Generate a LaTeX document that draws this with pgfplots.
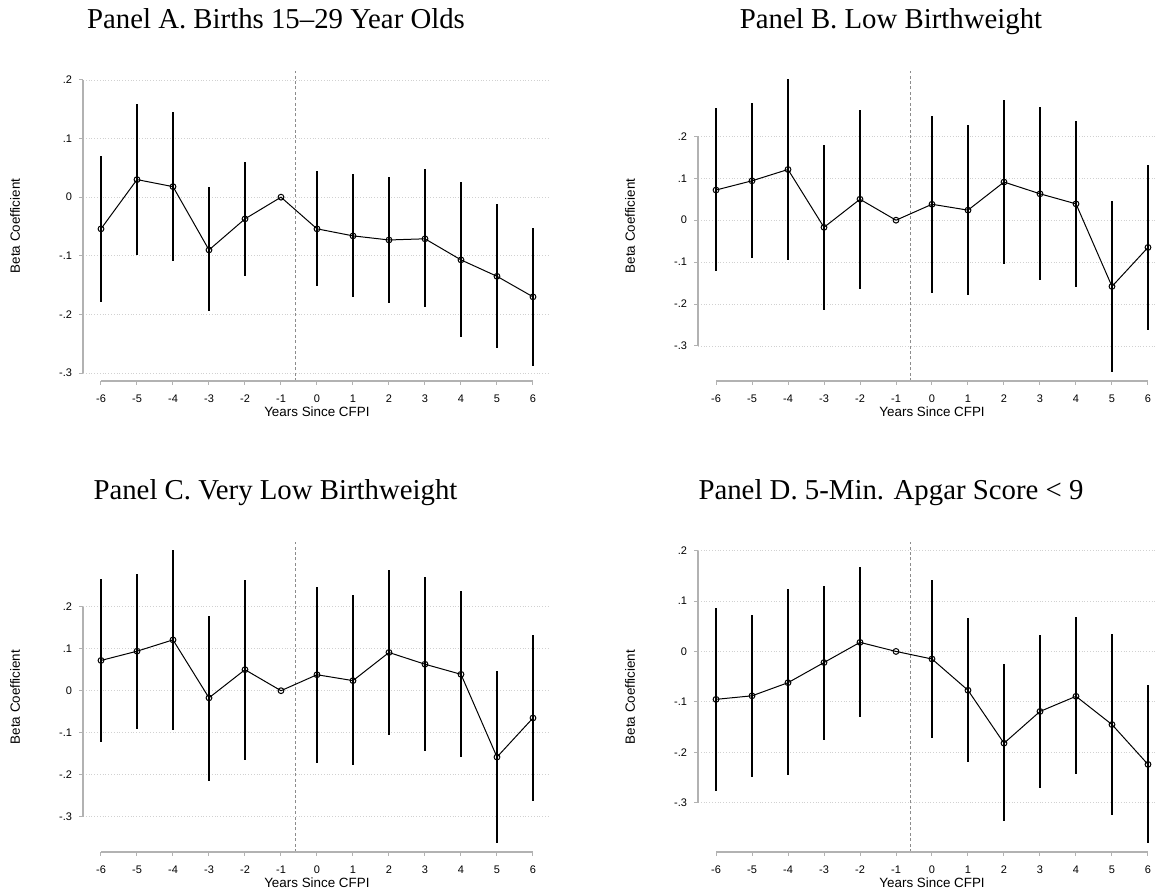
\documentclass[border=0pt]{standalone}
\usepackage{fontspec}
\setmainfont{Liberation Serif}
\setsansfont{Liberation Sans}
\usepackage{pgfplots}
\usepackage{pgfplotstable}
\pgfplotsset{compat=1.18}

\pgfplotstableread{
x y hi lo
-6 -0.054 0.071 -0.178
-5 0.030 0.159 -0.098
-4 0.018 0.146 -0.109
-3 -0.090 0.017 -0.195
-2 -0.037 0.060 -0.134
-1 0 0 0
0 -0.054 0.045 -0.151
1 -0.066 0.039 -0.170
2 -0.073 0.034 -0.180
3 -0.071 0.048 -0.188
4 -0.107 0.026 -0.239
5 -0.135 -0.012 -0.257
6 -0.170 -0.052 -0.288
}\tabA

\pgfplotstableread{
x y hi lo
-6 0.072 0.267 -0.122
-5 0.094 0.279 -0.091
-4 0.121 0.336 -0.094
-3 -0.017 0.179 -0.214
-2 0.050 0.264 -0.165
-1 0 0 0
0 0.038 0.248 -0.173
1 0.024 0.227 -0.178
2 0.091 0.287 -0.105
3 0.063 0.270 -0.143
4 0.039 0.237 -0.159
5 -0.158 0.047 -0.363
6 -0.065 0.132 -0.262
}\tabB

\pgfplotstableread{
x y hi lo
-6 0.072 0.267 -0.122
-5 0.094 0.279 -0.091
-4 0.121 0.336 -0.094
-3 -0.017 0.179 -0.214
-2 0.050 0.264 -0.165
-1 0 0 0
0 0.038 0.248 -0.173
1 0.024 0.227 -0.178
2 0.091 0.287 -0.105
3 0.063 0.270 -0.143
4 0.039 0.237 -0.159
5 -0.158 0.047 -0.363
6 -0.065 0.132 -0.262
}\tabC

\pgfplotstableread{
x y hi lo
-6 -0.095 0.087 -0.277
-5 -0.088 0.072 -0.249
-4 -0.062 0.123 -0.246
-3 -0.022 0.130 -0.176
-2 0.018 0.168 -0.131
-1 0 0 0
0 -0.015 0.142 -0.171
1 -0.077 0.066 -0.220
2 -0.182 -0.025 -0.337
3 -0.119 0.032 -0.270
4 -0.089 0.068 -0.244
5 -0.145 0.035 -0.324
6 -0.224 -0.067 -0.380
}\tabD

\tikzset{axl/.style={black!30, line width=0.6pt}}

\pgfplotsset{
  panel/.style={
    height=155pt, scale only axis,
    xmin=-6.5,
    xtick={-6,-5,-4,-3,-2,-1,0,1,2,3,4,5,6},
    xticklabels={-6,-5,-4,-3,-2,-1,0,1,2,3,4,5,6},
    ytick={-0.3,-0.2,-0.1,0,0.1,0.2},
    yticklabels={-.3,-.2,-.1,0,.1,.2},
    axis x line*=bottom, axis y line*=left,
    axis line style={draw=none},
    tick align=outside, major tick length=2pt,
    tick style={black!30, line width=0.5pt},
    ymajorgrids,
    grid style={black!18, line width=0.4pt, dash pattern=on 0.4pt off 1pt},
    clip=false,
    ticklabel style={font=\sffamily\fontsize{5.5}{6}\selectfont},
    xticklabel style={yshift=-1.5pt},
    label style={font=\sffamily\fontsize{6.7}{8}\selectfont},
    xlabel={Years Since CFPI}, ylabel={Beta Coefficient},
  },
  ci/.style={black, line width=0.5pt, mark=o, mark size=1.45pt,
    mark options={solid, line width=0.5pt},
    error bars/.cd, y dir=both, y explicit,
    error mark=none, error bar style={black, line width=0.6pt}},
  vline/.style={black!45, line width=0.45pt, dash pattern=on 1.5pt off 1.2pt},
}

\begin{document}
\begin{tikzpicture}
\path[use as bounding box] (0,0) rectangle (578.5pt,447pt);

% Titles
\node[anchor=base, font=\fontsize{14.4}{16}\selectfont] at (138pt,432.5pt) {Panel A. Births 15–29 Year Olds};
\node[anchor=base, font=\fontsize{14.4}{16}\selectfont] at (445.5pt,432.5pt) {Panel B. Low Birthweight};
\node[anchor=base, font=\fontsize{14.4}{16}\selectfont] at (137.75pt,197pt) {Panel C. Very Low Birthweight};
\node[anchor=base, font=\fontsize{14.4}{16}\selectfont] at (445.5pt,197pt) {Panel D. 5-Min. Apgar Score < 9};

% Panel A
\begin{axis}[panel, at={(41.5pt,256.5pt)}, anchor=south west,
  width=232.5pt, xmax=6.417, ymin=-0.3136, ymax=0.2153,
  ylabel style={at={(axis description cs:-0.146,0.5)}, anchor=center},
  xlabel style={at={(axis description cs:0.503,-0.116)}, anchor=base}]
\addplot[vline] coordinates {(-0.6,-0.3136) (-0.6,0.2153)};
\addplot[ci] table[x=x, y=y, y error plus expr=\thisrow{hi}-\thisrow{y}, y error minus expr=\thisrow{y}-\thisrow{lo}] {\tabA};
\draw[axl] (axis cs:-6.5,-0.3) -- (axis cs:-6.5,0.2);
\draw[axl] (axis cs:-6,-0.3136) -- (axis cs:6,-0.3136);
\end{axis}

% Panel B
\begin{axis}[panel, at={(349pt,256.5pt)}, anchor=south west,
  width=229.5pt, xmax=6.25, ymin=-0.3836, ymax=0.356,
  ylabel style={at={(axis description cs:-0.148,0.5)}, anchor=center},
  xlabel style={at={(axis description cs:0.51,-0.116)}, anchor=base}]
\addplot[vline] coordinates {(-0.6,-0.3836) (-0.6,0.356)};
\addplot[ci] table[x=x, y=y, y error plus expr=\thisrow{hi}-\thisrow{y}, y error minus expr=\thisrow{y}-\thisrow{lo}] {\tabB};
\draw[axl] (axis cs:-6.5,-0.3) -- (axis cs:-6.5,0.2);
\draw[axl] (axis cs:-6,-0.3836) -- (axis cs:6,-0.3836);
\end{axis}

% Panel C
\begin{axis}[panel, at={(41.5pt,21pt)}, anchor=south west,
  width=232.5pt, xmax=6.417, ymin=-0.384, ymax=0.354,
  ylabel style={at={(axis description cs:-0.146,0.5)}, anchor=center},
  xlabel style={at={(axis description cs:0.503,-0.116)}, anchor=base}]
\addplot[vline] coordinates {(-0.6,-0.384) (-0.6,0.354)};
\addplot[ci] table[x=x, y=y, y error plus expr=\thisrow{hi}-\thisrow{y}, y error minus expr=\thisrow{y}-\thisrow{lo}] {\tabC};
\draw[axl] (axis cs:-6.5,-0.3) -- (axis cs:-6.5,0.2);
\draw[axl] (axis cs:-6,-0.384) -- (axis cs:6,-0.384);
\end{axis}

% Panel D
\begin{axis}[panel, at={(349pt,21pt)}, anchor=south west,
  width=229.5pt, xmax=6.25, ymin=-0.3977, ymax=0.217,
  ylabel style={at={(axis description cs:-0.148,0.5)}, anchor=center},
  xlabel style={at={(axis description cs:0.51,-0.116)}, anchor=base}]
\addplot[vline] coordinates {(-0.6,-0.3977) (-0.6,0.217)};
\addplot[ci] table[x=x, y=y, y error plus expr=\thisrow{hi}-\thisrow{y}, y error minus expr=\thisrow{y}-\thisrow{lo}] {\tabD};
\draw[axl] (axis cs:-6.5,-0.3) -- (axis cs:-6.5,0.2);
\draw[axl] (axis cs:-6,-0.3977) -- (axis cs:6,-0.3977);
\end{axis}
\end{tikzpicture}
\end{document}
